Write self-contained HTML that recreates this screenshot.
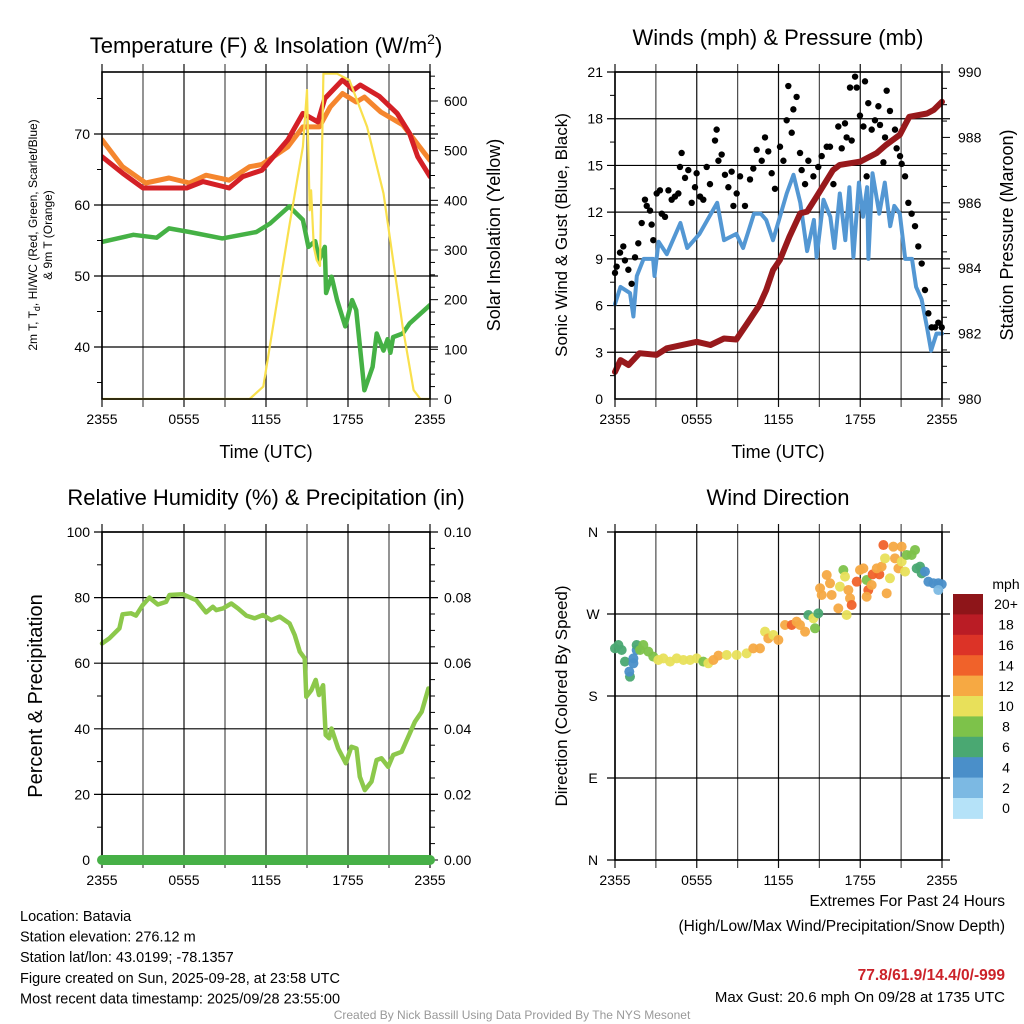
<!DOCTYPE html>
<html><head><meta charset="utf-8"><style>
html,body{margin:0;padding:0;background:#fff;}
svg{display:block;font-family:"Liberation Sans",Arial,sans-serif;}
</style></head><body>
<svg id="chart" width="1024" height="1024" viewBox="0 0 1024 1024" xmlns="http://www.w3.org/2000/svg"></svg>
<script>
// ---------- Panel 1: temperature & insolation ----------
const tHours=[0,1.5,3.0,4.0,6.2,7.4,9.3,10.3,11.7,13.6,14.7,15.8,16.3,17.6,18.4,18.9,20.3,21.6,22.5,23.1,24];
const tVals=[66.8,64.5,62.4,62.4,62.4,63.3,62.4,64.0,64.9,69.2,72.9,71.7,75.0,77.6,76.2,76.9,75.3,72.9,70.1,66.8,64.0];
const t9Hours=[0,1.5,3.2,4.9,6.4,7.6,9.3,10.8,11.7,13.6,14.7,15.9,16.7,17.6,18.6,19.2,20.4,22.0,24];
const t9Vals=[69.2,65.4,63.1,63.8,63.1,64.2,63.5,65.4,65.7,68.2,71.0,71.0,73.8,75.7,74.5,75.2,73.1,71.3,66.3];
const tdHours=[0,2.3,4.0,4.9,6.4,8.8,11.3,12.3,13.7,14.7,15.1,15.6,15.9,16.3,16.4,16.8,17.2,17.8,18.3,18.6,19.2,19.8,20.1,20.6,20.9,21.1,21.3,22.0,22.5,24];
const tdVals=[54.8,55.8,55.4,56.7,56.2,55.3,56.2,57.4,59.8,57.9,54.1,54.9,52.3,54.1,47.6,49.9,46.6,42.9,46.6,45.2,33.9,37.2,41.9,39.5,41.1,39.2,41.4,41.9,43.3,45.9];
const solHours=[0,10.8,11.8,13.7,14.7,15.0,15.2,15.3,15.5,15.7,15.95,16.2,17.2,18.1,19.4,20.6,22.0,22.8,23.3,24];
const solVals=[0,0,25,347,508,622,380,420,306,280,268,655,655,642,548,414,145,18,0,0];
// ---------- Panel 2: winds & pressure ----------
const windHours=[0,0.4,1.1,1.35,1.6,2.1,2.8,2.9,3.2,3.8,4.8,5.3,6.2,7.5,8.0,8.9,9.4,10.2,10.7,11.1,11.6,12.1,12.6,13.1,13.6,14.1,14.6,14.8,15.3,15.8,16.1,16.5,16.9,17.2,17.5,17.9,18.2,18.5,18.6,18.9,19.4,19.8,20.2,20.5,20.9,21.3,21.8,22.1,22.5,22.9,23.2,23.6,24];
const windVals=[6.1,7.2,6.8,5.3,7.9,9.0,9.0,7.9,10.1,9.3,11.3,9.7,10.6,12.6,10.2,10.6,9.7,11.9,11.9,11.5,10.2,11.7,13.2,14.4,12.6,9.5,11.5,9.1,12.8,11.7,9.7,13.2,10.2,13.6,9.1,13.9,11.7,13.6,9.0,14.5,11.9,13.9,11.1,12.4,11.9,9.0,9.0,7.2,6.4,4.6,3.1,4.2,4.2];
const presHours=[0,0.4,1.0,1.8,3.05,3.8,6.0,7.0,8.0,8.9,9.7,10.6,11.1,11.6,12.1,12.8,13.6,14.1,14.8,16.0,16.5,18.0,19.2,19.9,20.9,21.6,22.9,23.4,24];
const presVals=[980.83,981.19,981.04,981.40,981.35,981.55,981.75,981.65,981.85,981.82,982.31,982.87,983.33,983.94,984.25,984.96,985.68,985.73,986.19,987.0,987.16,987.26,987.52,987.77,988.08,988.63,988.73,988.84,989.09];
const gustHours=[0.0,0.12,0.37,0.61,0.73,0.98,1.22,1.47,1.71,1.96,2.20,2.33,2.57,2.69,2.81,3.06,3.30,3.43,3.67,3.92,4.16,4.40,4.65,4.77,4.89,5.14,5.38,5.63,5.87,5.99,6.24,6.48,6.73,6.97,7.34,7.46,7.59,7.83,8.07,8.32,8.56,8.69,8.93,9.18,9.54,9.91,10.15,10.40,10.77,11.01,11.25,11.50,11.74,12.11,12.36,12.60,12.72,12.97,13.09,13.33,13.58,13.70,13.95,14.19,14.56,14.92,15.17,15.54,15.78,16.03,16.39,16.64,16.88,17.00,17.25,17.37,17.62,17.74,17.98,18.23,18.35,18.47,18.59,18.84,19.08,19.33,19.45,19.70,19.82,19.94,20.18,20.55,20.67,20.92,21.04,21.29,21.53,21.77,22.02,22.26,22.51,22.75,23.00,23.24,23.49,23.73,23.98];
const gustVals=[8.1,8.5,9.4,9.8,8.9,8.3,7.4,9.1,10.0,11.3,12.8,12.4,12.1,11.2,10.2,13.2,13.4,11.9,11.7,13.4,12.8,13.0,13.2,14.9,15.8,14.2,14.7,12.6,13.6,14.5,13.0,12.8,14.9,13.8,16.6,17.3,15.3,15.7,14.4,13.6,14.6,12.4,13.2,14.3,12.4,14.1,14.8,16.0,15.3,16.8,15.9,14.5,13.5,16.2,15.3,17.9,20.1,17.1,18.6,19.4,15.8,14.7,13.8,15.3,14.3,14.9,15.6,16.2,16.2,13.8,17.5,16.1,17.7,16.8,20.0,16.6,20.7,20.0,18.2,17.5,20.4,14.3,19.0,17.3,17.9,18.8,17.6,15.2,16.8,19.8,18.5,17.3,16.1,15.6,15.1,14.3,12.6,11.9,11.1,9.8,8.7,7.0,5.5,4.6,4.6,4.9,4.6];
// ---------- Panel 3: humidity & precip ----------
const rhHours=[0,0.54,1.27,1.51,2.12,2.49,2.98,3.47,4.08,4.69,4.94,5.91,6.89,7.62,8.11,8.36,8.85,9.46,9.95,10.56,11.17,11.78,12.39,13.0,13.73,14.1,14.47,14.83,14.95,15.32,15.64,15.88,16.18,16.37,16.62,16.79,17.28,17.84,18.25,18.62,18.86,19.23,19.72,20.09,20.45,20.94,21.31,21.92,22.41,22.9,23.39,23.88];
const rhVals=[66.0,67.6,70.6,74.9,75.2,74.5,77.7,80.0,77.9,78.7,80.8,81.0,79.2,75.5,77.2,76.2,76.7,78.2,76.7,74.5,73.7,74.7,73.1,74.2,72.1,68.6,63.5,61.5,49.8,51.8,54.9,50.3,53.3,38.1,37.1,40.1,34.0,29.5,34.5,34.0,25.4,21.3,23.9,30.5,31.0,28.4,32.0,33.0,37.6,42.2,45.2,52.3];
const precipHours=[0,24];
const precipVals=[0,0];
// ---------- Panel 4: wind direction ----------
const dirHours=[0.0,0.25,0.49,0.73,1.10,1.05,1.35,1.35,1.59,1.59,1.84,2.08,2.45,2.81,3.18,3.55,4.04,4.53,5.02,5.51,6.0,6.48,6.85,7.22,7.59,8.20,8.93,9.66,10.15,10.64,11.01,11.25,11.62,11.99,12.48,12.97,13.33,13.58,13.95,14.19,14.56,14.68,14.92,15.17,15.05,15.54,15.78,15.90,16.51,16.76,16.88,17.13,17.25,17.37,17.0,16.39,17.74,17.98,18.23,18.47,18.59,18.47,18.84,18.91,19.40,19.21,19.57,19.94,19.70,19.82,20.18,20.43,20.55,20.80,21.04,21.04,21.29,21.41,21.77,22.02,22.14,22.39,22.51,22.75,23.0,23.37,23.73,23.98,23.73];
const dirVals=[232.3,236.0,230.5,217.7,201.2,206.7,221.3,215.9,230.5,236.0,230.5,236.0,228.7,223.2,219.5,221.3,217.7,221.3,219.5,219.5,221.3,217.7,215.9,219.5,224.3,225.0,225.0,226.8,232.3,232.3,250.6,243.3,246.9,241.5,257.9,257.9,261.6,257.9,250.6,268.9,265.3,254.3,270.7,290.9,298.2,312.8,303.7,290.9,300.0,318.3,311.0,296.3,287.2,279.9,268.9,276.2,305.5,318.3,320.1,307.3,296.3,289.0,301.8,313.5,313.5,320.1,322.0,292.7,345.7,331.1,309.2,343.9,331.1,320.1,343.9,327.5,316.5,334.8,334.8,340.3,320.1,322.0,314.6,316.5,305.5,303.7,303.7,302.6,296.3];
const dirSpeeds=[6,6,6,6,6,4,4,4,4,6,8,8,8,8,10,10,10,10,10,10,10,8,10,12,12,10,10,10,12,12,10,12,10,12,12,14,12,12,12,6,10,8,6,12,12,12,12,12,10,8,10,12,12,14,10,12,14,12,12,8,14,12,12,14,14,12,12,12,14,10,10,12,12,12,12,10,10,8,8,8,6,6,6,4,4,4,4,4,2];
const speedLevels=["0","2","4","6","8","10","12","14","16","18","20+"];
const speedColors=["#b5e2f8","#7cb9e3","#4a8fc9","#4aa872","#7dc24a","#e8e05a","#f6a943","#f0622a","#dc3327","#ba1c25","#8e1519"];
const timeTicks=["2355","0555","1155","1755","2355"];

const NS="http://www.w3.org/2000/svg";
const svg=document.getElementById('chart');
function mk(tag,attrs,parent){const e=document.createElementNS(NS,tag);for(const k in attrs)e.setAttribute(k,attrs[k]);(parent||svg).appendChild(e);return e;}
function txt(s,x,y,size,anchor,parent,extra){const e=mk('text',Object.assign({x:x,y:y,'font-size':size,'text-anchor':anchor||'middle',fill:'#000'},extra||{}),parent);e.textContent=s;return e;}
function lin(d0,d1,r0,r1){return v=>r0+(v-d0)*(r1-r0)/(d1-d0);}

function frame(L,R,T,B,name){
  const g=mk('g',{});
  
  
  return g;
}
function timeAxis(g,L,R,T,B,xs){
  for(let i=0;i<=8;i++){const x=xs(i*3);
    mk('line',{x1:x,y1:T-8,x2:x,y2:B+8,stroke:'#000','stroke-width':1.2,'stroke-opacity':i%2?0.7:0.95},g);}
  timeTicks.forEach((s,i)=>{const t=txt(s,xs(i*6),B+25,14,'middle',g);
    
    });
}
function hgrid(g,L,R,ys,vals){vals.forEach(v=>mk('line',{x1:L-8,y1:ys(v),x2:R+8,y2:ys(v),stroke:'#000','stroke-width':1.2},g));}
function border(g,L,R,T,B){mk('rect',{x:L,y:T,width:R-L,height:B-T,fill:'none',stroke:'#000','stroke-width':1.6},g);}
function polyline(g,hs,vs,xs,ys,color,w,name){
  const p=mk('polyline',{points:hs.map((h,i)=>xs(h).toFixed(1)+','+ys(vs[i]).toFixed(1)).join(' '),fill:'none',stroke:color,'stroke-width':w,'stroke-linejoin':'round','stroke-linecap':'round'},g);
  
  
  return p;
}

// ===== Panel 1 =====
(function(){
  const L=102,R=430,T=72,B=399;
  const g=frame(L,R,T,B,'temperature-panel');
  const xs=lin(0,24,L,R), ys=lin(70,60,134,205), ysR=lin(0,600,399,101);
  timeAxis(g,L,R,T,B,xs);
  hgrid(g,L,R,ys,[70,60,50,40]);
  [75,65,55,45,35].forEach(v=>mk('line',{x1:L-5,y1:ys(v),x2:L,y2:ys(v),stroke:'#000'},g));
  for(let v=0;v<=650;v+=25){mk('line',{x1:R,y1:ysR(v),x2:R+(v%100==0?8:5),y2:ysR(v),stroke:'#000'},g);}
  [40,50,60,70].forEach(v=>txt(String(v),L-12,ys(v)+5,14,'end',g));
  [0,100,200,300,400,500,600].forEach(v=>txt(String(v),R+14,ysR(v)+5,14,'start',g));
  const defs=mk('defs',{},g);
  const cp=mk('clipPath',{id:'c1'},defs);
  mk('rect',{x:L,y:T-2,width:R-L,height:B-T+3},cp);
  const cg=mk('g',{'clip-path':'url(#c1)'},g);
  polyline(cg,tdHours,tdVals,xs,ys,'#45b145',4.5,'dewpoint-line');
  polyline(cg,t9Hours,t9Vals,xs,ys,'#f5862e',5,'temp-9m-line');
  polyline(cg,tHours,tVals,xs,ys,'#d42026',5,'temp-2m-line');
  polyline(cg,solHours,solVals,xs,ysR,'#f9e04d',2.2,'solar-insolation-line');
  border(g,L,R,T,B);
  const t=txt('',266,53,22,'middle',g);t.innerHTML='Temperature (F) &amp; Insolation (W/m<tspan dy="-9" font-size="14">2</tspan><tspan dy="9">)</tspan>';
  
  txt('Time (UTC)',266,458,18,'middle',g);
  const yl=mk('text',{transform:'translate(37,235) rotate(-90)','font-size':12,'text-anchor':'middle',fill:'#000'},g);
  yl.innerHTML='2m T, T<tspan dy="3" font-size="9">d</tspan><tspan dy="-3">, HI/WC (Red, Green, Scarlet/Blue)</tspan>';
  
  txt('& 9m T (Orange)',0,0,12,'middle',g,{transform:'translate(52,235) rotate(-90)'});
  txt('Solar Insolation (Yellow)',0,0,18,'middle',g,{transform:'translate(500,235) rotate(-90)'});
})();

// ===== Panel 2 =====
(function(){
  const L=615,R=942,T=72,B=399;
  const g=frame(L,R,T,B,'winds-panel');
  const xs=lin(0,24,L,R), ys=lin(0,21,B,T), ysR=lin(980,990,B,T);
  timeAxis(g,L,R,T,B,xs);
  hgrid(g,L,R,ys,[3,6,9,12,15,18,21]);
  [1.5,4.5,7.5,10.5,13.5,16.5,19.5].forEach(v=>mk('line',{x1:L-5,y1:ys(v),x2:L,y2:ys(v),stroke:'#000'},g));
  for(let v=980;v<=990.01;v+=0.5){mk('line',{x1:R,y1:ysR(v),x2:R+(Math.abs(v%2)<0.01?8:5),y2:ysR(v),stroke:'#000'},g);}
  [0,3,6,9,12,15,18,21].forEach(v=>txt(String(v),L-12,ys(v)+5,14,'end',g));
  [980,982,984,986,988,990].forEach(v=>txt(String(v),R+16,ysR(v)+5,14,'start',g));
  polyline(g,windHours,windVals,xs,ys,'#5397d3',4,'sonic-wind-line');
  gustHours.forEach((h,i)=>{const c=mk('circle',{cx:xs(h),cy:ys(gustVals[i]),r:3.2,fill:'#000'},g);
    
    });
  polyline(g,presHours,presVals,xs,ysR,'#98191c',6,'pressure-line');
  border(g,L,R,T,B);
  txt('Winds (mph) & Pressure (mb)',778,45,22,'middle',g);
  txt('Time (UTC)',778,458,18,'middle',g);
  txt('Sonic Wind & Gust (Blue, Black)',0,0,17,'middle',g,{transform:'translate(567,235) rotate(-90)'});
  txt('Station Pressure (Maroon)',0,0,18,'middle',g,{transform:'translate(1013,235) rotate(-90)'});
})();

// ===== Panel 3 =====
(function(){
  const L=102,R=430,T=532,B=860;
  const g=frame(L,R,T,B,'humidity-panel');
  const xs=lin(0,24,L,R), ys=lin(0,100,B,T), ysR=lin(0,0.1,B,T);
  timeAxis(g,L,R,T,B,xs);
  hgrid(g,L,R,ys,[20,40,60,80,100]);
  [10,30,50,70,90].forEach(v=>mk('line',{x1:L-5,y1:ys(v),x2:L,y2:ys(v),stroke:'#000'},g));
  for(let i=0;i<=20;i++){mk('line',{x1:R,y1:ysR(i*0.005),x2:R+(i%4==0?8:5),y2:ysR(i*0.005),stroke:'#000'},g);}
  [0,20,40,60,80,100].forEach(v=>txt(String(v),L-12,ys(v)+5,14,'end',g));
  [0,0.02,0.04,0.06,0.08,0.1].forEach(v=>txt(v.toFixed(2),R+14,ysR(v)+5,14,'start',g));
  polyline(g,rhHours,rhVals,xs,ys,'#8cc84b',4.5,'humidity-line');
  border(g,L,R,T,B);
  polyline(g,precipHours,precipVals,xs,ysR,'#47b047',10,'precipitation-line');
  txt('Relative Humidity (%) & Precipitation (in)',266,505,22,'middle',g);
  txt('Percent & Precipitation',0,0,20,'middle',g,{transform:'translate(42,696) rotate(-90)'});
})();

// ===== Panel 4 =====
(function(){
  const L=615,R=942,T=532,B=860;
  const g=frame(L,R,T,B,'wind-direction-panel');
  const xs=lin(0,24,L,R), ys=lin(0,360,B,T);
  timeAxis(g,L,R,T,B,xs);
  hgrid(g,L,R,ys,[0,90,180,270,360]);
  [[0,'N'],[90,'E'],[180,'S'],[270,'W'],[360,'N']].forEach(a=>txt(a[1],L-22,ys(a[0])+5,14,'middle',g));
  border(g,L,R,T,B);
  dirHours.forEach((h,i)=>{
    const ci=Math.min(10,Math.floor(dirSpeeds[i]/2));
    const c=mk('circle',{cx:xs(h),cy:ys(dirVals[i]),r:5,fill:speedColors[ci],'fill-opacity':0.95},g);
    
    
  });
  txt('Wind Direction',778,505,22,'middle',g);
  txt('Direction (Colored By Speed)',0,0,17,'middle',g,{transform:'translate(567,696) rotate(-90)'});
  const lg=mk('g',{},g);
  
  
  txt('mph',1006,589,14,'middle',lg);
  const bh=20.4;
  for(let k=10;k>=0;k--){const y=594+(10-k)*bh;
    const r=mk('rect',{x:953,y:y,width:30,height:bh+0.5,fill:speedColors[k]},lg);
    
    
    txt(speedLevels[k],1006,y+bh/2+5,14,'middle',lg);}
})();

// ===== Footer text =====
(function(){
  const g=mk('g',{});
  
  
  ['Location: Batavia','Station elevation: 276.12 m','Station lat/lon: 43.0199; -78.1357','Figure created on Sun, 2025-09-28, at 23:58 UTC','Most recent data timestamp: 2025/09/28 23:55:00']
    .forEach((s,i)=>txt(s,20,921+i*20.6,14.5,'start',g));
  const e=mk('g',{});
  
  
  txt('Extremes For Past 24 Hours',1005,906,15.5,'end',e);
  txt('(High/Low/Max Wind/Precipitation/Snow Depth)',1005,931,15.5,'end',e);
  txt('77.8/61.9/14.4/0/-999',1005,980,15.5,'end',e,{fill:'#cc2229','font-weight':'bold'});
  txt('Max Gust: 20.6 mph On 09/28 at 1735 UTC',1005,1002,15,'end',e);
  const c=txt('Created By Nick Bassill Using Data Provided By The NYS Mesonet',512,1019,12,'middle',svg,{fill:'#999'});
  
  
})();
</script>
</body></html>
